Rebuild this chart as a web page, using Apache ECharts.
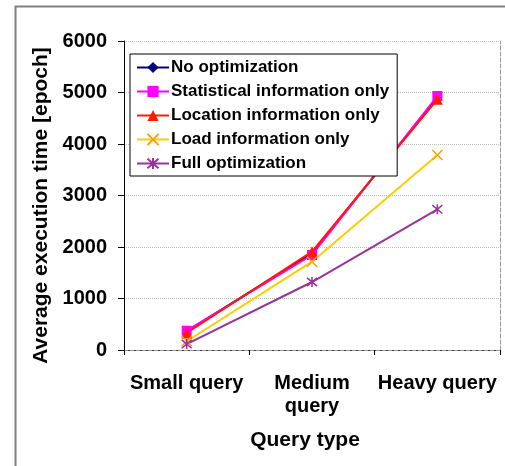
<!DOCTYPE html>
<html><head><meta charset="utf-8">
<script src="https://cdn.jsdelivr.net/npm/echarts@6/dist/echarts.min.js"></script>
<style>html,body{margin:0;padding:0;background:#fff}#c{width:505px;height:466px}</style>
</head><body><div id="c"></div>
<script>
const categories = ['Small query', 'Medium\nquery', 'Heavy query'];
const seriesNames = ['No optimization', 'Statistical information only', 'Location information only', 'Load information only', 'Full optimization'];
const noOpt = [360, 1880, 4900];
const statOnly = [375, 1845, 4932];
const locOnly = [330, 1910, 4867];
const loadOnly = [170, 1715, 3786];
const fullOpt = [115, 1320, 2732];
const yTicks = [0, 1000, 2000, 3000, 4000, 5000, 6000];

const FONT = '"Liberation Sans", Arial, sans-serif';
const chart = echarts.init(document.getElementById('c'), null, {renderer: 'canvas'});
const xPath = 'path://M0,0L10,10M10,0L0,10';
const starPath = 'path://M0,0L10,10M10,0L0,10M5,-1L5,11';
function s(name, data, color, symbol, size, extra) {
  return Object.assign({
    name, type: 'line', data, color, symbol, symbolSize: size,
    lineStyle: {color, width: 2}, itemStyle: {color}, z: 3
  }, extra || {});
}
chart.setOption({
  animation: false,
  textStyle: {fontFamily: FONT},
  graphic: [{type: 'rect', left: 13, top: 4, shape: {width: 600, height: 461}, style: {fill: 'none', stroke: '#808080', lineWidth: 2}, silent: true}],
  grid: {left: 124, right: 5, top: 41, bottom: 116},
  legend: {
    orient: 'vertical', left: 130, top: 54,
    backgroundColor: '#fff', borderColor: '#000', borderWidth: 1,
    padding: [5, 8, 4, 6], itemWidth: 32, itemHeight: 14, itemGap: 7,
    textStyle: {fontFamily: FONT, fontSize: 17, fontWeight: 'bold', color: '#000', padding: [0, 0, 0, -3]},
    data: seriesNames
  },
  xAxis: [{
    type: 'category', data: categories, boundaryGap: true,
    axisLine: {lineStyle: {color: '#000', width: 1}},
    axisTick: {show: true, length: 5, lineStyle: {color: '#000'}},
    axisLabel: {color: '#000', fontSize: 20, fontWeight: 'bold', fontFamily: FONT, margin: 22, lineHeight: 23, interval: 0},
    name: 'Query type', nameLocation: 'middle', nameGap: 80,
    nameTextStyle: {color: '#000', fontSize: 21, fontWeight: 'bold', fontFamily: FONT, padding: [0, 14, 0, 0]}
  }, {
    type: 'category', position: 'top', data: categories,
    axisLine: {lineStyle: {color: '#999', type: 'dashed'}},
    axisTick: {show: false}, axisLabel: {show: false}
  }],
  yAxis: [{
    type: 'value', min: yTicks[0], max: yTicks[yTicks.length - 1], interval: 1000,
    axisLine: {show: true, lineStyle: {color: '#000', width: 1}},
    axisTick: {show: true, length: 6, lineStyle: {color: '#000'}},
    axisLabel: {color: '#000', fontSize: 20, fontWeight: 'bold', fontFamily: FONT, margin: 17, formatter: v => String(v)},
    splitLine: {show: true, lineStyle: {color: '#bbb', type: 'dotted', width: 1}},
    name: 'Average execution time [epoch]', nameLocation: 'middle', nameGap: 71,
    nameTextStyle: {color: '#000', fontSize: 21, fontWeight: 'bold', fontFamily: FONT, padding: [0, 20, 0, 0]}
  }, {
    type: 'value', position: 'right', min: 0, max: 6000, interval: 1000,
    axisLine: {show: true, lineStyle: {color: '#999', type: 'dashed'}},
    axisTick: {show: false}, axisLabel: {show: false}, splitLine: {show: false}
  }],
  series: [
    s(seriesNames[0], noOpt, '#000080', 'diamond', 9),
    s(seriesNames[1], statOnly, '#FF00FF', 'rect', 10),
    s(seriesNames[2], locOnly, '#FF1A00', 'triangle', 11),
    s(seriesNames[3], loadOnly, '#FFCC00', xPath, 10, {itemStyle: {color: 'none', borderColor: '#FFA000', borderWidth: 1.5}}),
    s(seriesNames[4], fullOpt, '#993399', starPath, 10, {itemStyle: {color: 'none', borderColor: '#993399', borderWidth: 1.5}})
  ]
});
</script></body></html>
